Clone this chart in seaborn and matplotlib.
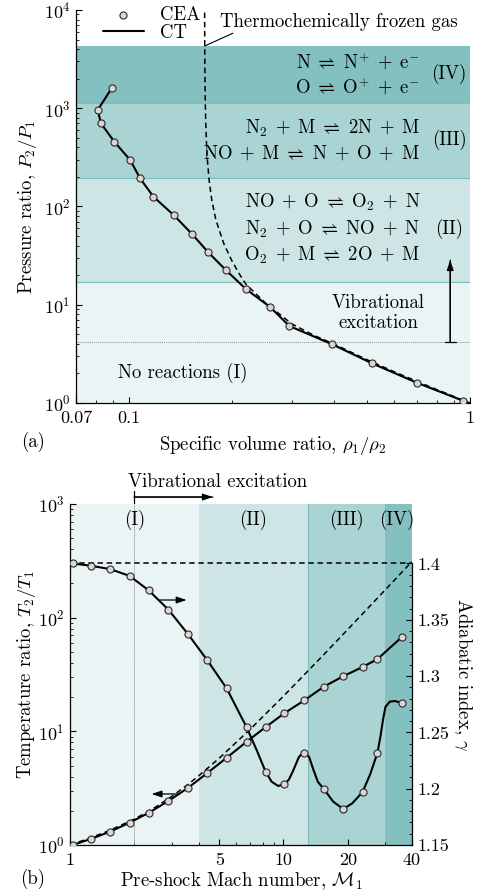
import matplotlib
matplotlib.use("Agg")
import matplotlib.pyplot as plt
import numpy as np
import pandas as pd
import seaborn as sns
from matplotlib.patches import ArrowStyle
from matplotlib.ticker import FixedLocator, FixedFormatter, NullFormatter, LogLocator

# ---------------------------------------------------------------- data
# (a) Hugoniot curve: specific volume ratio rho1/rho2 vs pressure ratio P2/P1
rho_ratio_cea = [0.0891, 0.0810, 0.0829, 0.0907, 0.1010, 0.1079, 0.1181, 0.1354, 0.1529,
                 0.1710, 0.1928, 0.2206, 0.2594, 0.2956, 0.395, 0.5165, 0.698, 0.957]
p_ratio_cea = [1600, 957, 700, 455, 296, 193, 125.6, 81.7, 52.8,
               34.1, 22.4, 14.4, 9.48, 6.07, 3.95, 2.53, 1.61, 1.05]

# thermochemically frozen gas
rho_ratio_frozen = [0.16677, 0.1670, 0.1675, 0.168, 0.169, 0.170, 0.172, 0.175, 0.18, 0.19,
                    0.20, 0.21, 0.22, 0.25, 0.30, 0.35, 0.40, 0.50, 0.60, 0.70, 0.80, 0.90, 1.0]
p_ratio_frozen = [9400, 2916, 1166, 729, 416.5, 291.5, 182, 116.5, 72.75, 41.5,
                  28.5, 21.0, 16.3, 10.6, 6.4, 4.85, 3.97, 2.75, 2.077, 1.656, 1.368, 1.159, 1.0]

p_regime_bounds = [1, 17, 195, 1120, 4300]
p_vib_onset = 4.2

# (b) post-shock temperature ratio and adiabatic index vs Mach number
mach_cea = [1.03, 1.25, 1.54, 1.90, 2.34, 2.89, 3.58, 4.40, 5.42, 6.72, 8.25, 10.08,
            12.5, 15.46, 19.03, 23.46, 27.57, 35.72]
temp_cea = [1.0, 1.13, 1.31, 1.57, 1.92, 2.44, 3.19, 4.30, 5.86, 8.10, 10.9, 14.4,
            18.7, 24.7, 30.5, 36.8, 43.2, 67.1]
gamma_cea = [1.400, 1.398, 1.395, 1.389, 1.376, 1.359, 1.337, 1.314, 1.289, 1.2545, 1.215,
             1.204, 1.232, 1.200, 1.182, 1.197, 1.232, 1.276]

mach_ct = [1.03, 1.25, 1.54, 1.90, 2.34, 2.89, 3.58, 4.40, 5.42, 6.72, 7.5, 8.25, 8.8, 9.45,
           10.08, 10.6, 11.1, 11.8, 12.5, 13.2, 13.8, 14.5, 15.46, 17.1, 19.03, 21.0, 23.46,
           25.5, 27.57, 28.5, 29.3, 30.06, 31.5, 33.2, 35.72]
gamma_ct = [1.400, 1.398, 1.395, 1.389, 1.376, 1.359, 1.337, 1.314, 1.289, 1.2545, 1.234,
            1.215, 1.2062, 1.2024, 1.204, 1.208, 1.216, 1.228, 1.233, 1.228, 1.217, 1.206,
            1.1997, 1.1885, 1.182, 1.187, 1.197, 1.213, 1.232, 1.247, 1.262, 1.2728, 1.2773,
            1.2779, 1.2761]

mach_frozen = [1.0, 1.25, 1.5, 2, 2.5, 3, 3.5, 4, 5, 7, 10, 15, 20, 30, 40]
temp_frozen = [1.0, 1.159, 1.320, 1.6875, 2.1375, 2.679, 3.315, 4.047, 5.80, 10.47, 20.39,
               44.69, 78.72, 175.9, 312.0]
gamma_frozen = [1.4, 1.4]
mach_frozen_gamma = [1, 40]

mach_regime_bounds = [1, 4, 13, 30, 40]
mach_vib_onset = 2

regime_colors = ["#eaf4f5", "#cde5e5", "#a9d4d3", "#83c0bf"]
regime_edge = "#7dbcba"

# ---------------------------------------------------------------- style
sns.set_theme(style="ticks")
plt.rcParams.update({
    "font.family": "serif",
    "font.serif": ["cmr10"],
    "mathtext.fontset": "cm",
    "axes.formatter.use_mathtext": True,
    "font.size": 13.5,
    "axes.labelsize": 13.5,
    "legend.fontsize": 13.5,
    "xtick.labelsize": 13,
    "ytick.labelsize": 13,
    "xtick.direction": "in",
    "ytick.direction": "in",
    "xtick.major.size": 4.5,
    "ytick.major.size": 4.5,
    "xtick.minor.size": 2.5,
    "ytick.minor.size": 2.5,
    "xtick.major.width": 0.8,
    "ytick.major.width": 0.8,
    "xtick.minor.width": 0.6,
    "ytick.minor.width": 0.6,
    "xtick.major.pad": 5.8,
    "ytick.major.pad": 4.0,
    "axes.linewidth": 0.9,
    "axes.edgecolor": "black",
    "text.color": "black",
    "axes.labelcolor": "black",
    "xtick.color": "black",
    "ytick.color": "black",
})

W, H = 478, 894
fig = plt.figure(figsize=(W / 100, H / 100), dpi=100)
ax_a = fig.add_axes([76 / W, 1 - 403 / H, 394 / W, 393 / H])
ax_b = fig.add_axes([70 / W, 1 - 845 / H, 342 / W, 341 / H])

line_kw = dict(color="black", lw=1.5, estimator=None, sort=False)
dash_kw = dict(color="black", lw=1.1, linestyle=(0, (3.6, 2.4)), estimator=None, sort=False)
point_kw = dict(s=26, color="#ddd4d4", edgecolor="#2a2a2a", linewidth=0.8)


def arrow(ax, start, end, **kw):
    ax.annotate("", xy=end, xytext=start, annotation_clip=False,
                arrowprops=dict(arrowstyle="-|>,head_length=0.45,head_width=0.15",
                                color="black", lw=0.9, shrinkA=0, shrinkB=0, **kw))


def bar_arrow(ax, start, end):
    arrow(ax, start, end)
    ax.annotate("", xy=end, xytext=start, annotation_clip=False,
                arrowprops=dict(arrowstyle=ArrowStyle("]-", widthA=0.3, lengthA=0),
                                color="black", lw=0.9, shrinkA=0, shrinkB=0))


def reaction(lhs, rhs):
    """Build a mathtext equilibrium reaction from lists of species."""
    sp = r"\;"
    plus = sp + "+" + sp
    return ("$" + plus.join(lhs) + sp + r"\rightleftharpoons" + sp
            + plus.join(rhs) + "$")


# ---------------------------------------------------------------- (a)
ax_a.set_xscale("log")
ax_a.set_yscale("log")
ax_a.set_xlim(0.07, 1)
ax_a.set_ylim(1, 1e4)

for lo, hi, c in zip(p_regime_bounds[:-1], p_regime_bounds[1:], regime_colors):
    ax_a.axhspan(lo, hi, color=c, lw=0, zorder=0)
for b in p_regime_bounds[1:-1]:
    ax_a.axhline(b, color=regime_edge, lw=0.8, zorder=0.5)
ax_a.axhline(p_vib_onset, color="#8c8c8c", lw=0.7, ls=(0, (1, 1)), zorder=0.6)

sns.lineplot(x=rho_ratio_frozen, y=p_ratio_frozen, ax=ax_a, zorder=2, legend=False, **dash_kw)
sns.lineplot(x=rho_ratio_cea, y=p_ratio_cea, ax=ax_a, zorder=3, label="CT", **line_kw)
sns.scatterplot(x=rho_ratio_cea, y=p_ratio_cea, ax=ax_a, zorder=4, label="CEA", **point_kw)

handles, labels = ax_a.get_legend_handles_labels()
hmap = dict(zip(labels, handles))
ax_a.legend([hmap["CEA"], hmap["CT"]], ["CEA", "CT"], loc="upper left",
            bbox_to_anchor=(0.068, 1.01), frameon=False, handlelength=2.2,
            handletextpad=0.85, labelspacing=0.0, borderpad=0, borderaxespad=0,
            prop={"size": 13.5})

ax_a.text(0.365, 0.9695, "Thermochemically frozen gas", transform=ax_a.transAxes,
          ha="left", va="center")
ax_a.annotate("", xy=(0.1668, 4300), xytext=(0.2018, 5800),
              arrowprops=dict(arrowstyle="-", lw=0.8, color="black", shrinkA=0, shrinkB=0))

N, O, M, NO, e = r"\mathrm{N}", r"\mathrm{O}", r"\mathrm{M}", r"\mathrm{NO}", r"\mathrm{e}^{-}"
N2, O2 = r"\mathrm{N}_2", r"\mathrm{O}_2"
rx, nx = 0.714, 0.869
ax_a.text(rx, 2944, reaction([N], [r"\mathrm{N}^{+}", e]), ha="right", va="center")
ax_a.text(rx, 1640, reaction([O], [r"\mathrm{O}^{+}", e]), ha="right", va="center")
ax_a.text(nx, 2222, "(IV)", ha="center", va="center")
ax_a.text(rx, 628, reaction([N2, M], ["2" + N, M]), ha="right", va="center")
ax_a.text(rx, 349, reaction([NO, M], [N, O, M]), ha="right", va="center")
ax_a.text(nx, 473, "(III)", ha="center", va="center")
ax_a.text(rx, 111, reaction([NO, O], [O2, N]), ha="right", va="center")
ax_a.text(rx, 58.9, reaction([N2, O], [NO, N]), ha="right", va="center")
ax_a.text(rx, 32, reaction([O2, M], ["2" + O, M]), ha="right", va="center")
ax_a.text(nx, 58.9, "(II)", ha="center", va="center")
ax_a.text(0.538, 10.4, "Vibrational", ha="center", va="center")
ax_a.text(0.538, 6.5, "excitation", ha="center", va="center")
ax_a.text(0.144, 2.02, "No reactions (I)", ha="center", va="center")
bar_arrow(ax_a, (0.875, p_vib_onset), (0.875, 28.5))

ax_a.xaxis.set_major_locator(FixedLocator([0.07, 0.1, 1]))
ax_a.xaxis.set_major_formatter(FixedFormatter(["0.07", "0.1", "1"]))
ax_a.xaxis.set_minor_locator(FixedLocator([0.08, 0.09, 0.2, 0.3, 0.4, 0.5, 0.6, 0.7, 0.8, 0.9]))
ax_a.xaxis.set_minor_formatter(NullFormatter())
ax_a.yaxis.set_major_locator(LogLocator(base=10, numticks=10))
ax_a.yaxis.set_minor_locator(LogLocator(base=10, subs=np.arange(2, 10), numticks=20))
ax_a.yaxis.set_minor_formatter(NullFormatter())
ax_a.spines["top"].set_visible(False)
ax_a.spines["right"].set_visible(False)
ax_a.set_xlabel(r"Specific volume ratio, $\rho_1/\rho_2$")
ax_a.set_ylabel(r"Pressure ratio, $P_2/P_1$")
ax_a.xaxis.set_label_coords(0.5, -0.079)
ax_a.yaxis.set_label_coords(-0.094, 0.5)

# ---------------------------------------------------------------- (b)
ax_b.set_xscale("log")
ax_b.set_yscale("log")
ax_b.set_xlim(1, 40)
ax_b.set_ylim(1, 1000)

for lo, hi, c in zip(mach_regime_bounds[:-1], mach_regime_bounds[1:], regime_colors):
    ax_b.axvspan(lo, hi, color=c, lw=0, zorder=0)
ax_b.axvline(mach_regime_bounds[2], color=regime_edge, lw=0.8, zorder=0.5)
ax_b.axvline(mach_vib_onset, color="#9a9a9a", lw=0.7, ls=(0, (1, 0.6)), zorder=0.6)

sns.lineplot(x=mach_frozen, y=temp_frozen, ax=ax_b, zorder=2, legend=False, **dash_kw)
sns.lineplot(x=mach_cea, y=temp_cea, ax=ax_b, zorder=3, legend=False, **line_kw)
sns.scatterplot(x=mach_cea, y=temp_cea, ax=ax_b, zorder=4, legend=False, **point_kw)

region_mach = [2, 7.19, 19.8, 33.9]
for m, lab in zip(region_mach, ["(I)", "(II)", "(III)", "(IV)"]):
    ax_b.text(m, 721, lab, ha="center", va="center")

ax_b.text(1.87, 1559, "Vibrational excitation", ha="left", va="center", clip_on=False)
bar_arrow(ax_b, (mach_vib_onset, 1151), (4.67, 1151))
arrow(ax_b, (2.64, 143), (3.52, 143))
arrow(ax_b, (3.21, 2.81), (2.41, 2.81))

ax_b.xaxis.set_major_locator(FixedLocator([1, 5, 10, 20, 40]))
ax_b.xaxis.set_major_formatter(FixedFormatter(["1", "5", "10", "20", "40"]))
ax_b.xaxis.set_minor_locator(FixedLocator([2, 3, 4, 6, 7, 8, 9, 30]))
ax_b.xaxis.set_minor_formatter(NullFormatter())
ax_b.yaxis.set_major_locator(LogLocator(base=10, numticks=10))
ax_b.yaxis.set_minor_locator(LogLocator(base=10, subs=np.arange(2, 10), numticks=20))
ax_b.yaxis.set_minor_formatter(NullFormatter())
ax_b.spines["top"].set_visible(False)
ax_b.spines["right"].set_visible(False)
ax_b.set_xlabel(r"Pre-shock Mach number, $\mathcal{M}_1$")
ax_b.set_ylabel(r"Temperature ratio, $T_2/T_1$")
ax_b.xaxis.set_label_coords(0.5, -0.073)
ax_b.yaxis.set_label_coords(-0.094, 0.5)

ax_g = ax_b.twinx()
ax_g.set_ylim(1.15, 1.4528)
sns.lineplot(x=mach_frozen_gamma, y=gamma_frozen, ax=ax_g, zorder=2, legend=False, **dash_kw)
sns.lineplot(x=mach_ct, y=gamma_ct, ax=ax_g, zorder=3, legend=False, **line_kw)
sns.scatterplot(x=mach_cea, y=gamma_cea, ax=ax_g, zorder=4, legend=False, **point_kw)
ax_g.set_xlim(1, 40)

gamma_ticks = [1.15, 1.2, 1.25, 1.3, 1.35, 1.4]
ax_g.yaxis.set_major_locator(FixedLocator(gamma_ticks))
ax_g.yaxis.set_major_formatter(FixedFormatter([f"{t:g}" for t in gamma_ticks]))
ax_g.yaxis.set_minor_locator(FixedLocator(np.round(np.arange(1.15, 1.4001, 0.01), 2)))
ax_g.yaxis.set_minor_formatter(NullFormatter())
for s in ("top", "left", "bottom"):
    ax_g.spines[s].set_visible(False)
ax_g.spines["right"].set_bounds(1.15, 1.4)
ax_g.set_ylabel(r"Adiabatic index, $\gamma$", rotation=270, va="center")
ax_g.yaxis.set_label_coords(1.149, 0.5)

fig.text(33 / W, 1 - 442 / H, "(a)", ha="center", va="center")
fig.text(33 / W, 1 - 879 / H, "(b)", ha="center", va="center")

fig.savefig("out.png", dpi=100)
